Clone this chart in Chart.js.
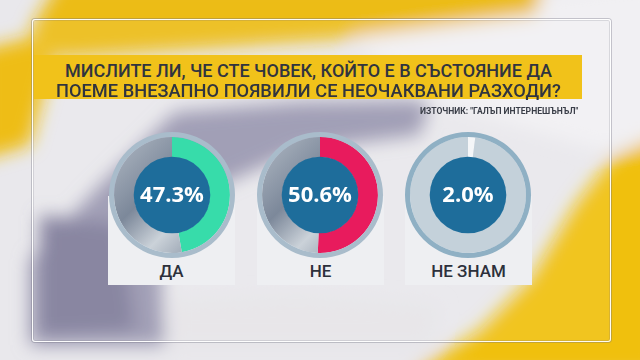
<!DOCTYPE html>
<html>
<head>
<meta charset="utf-8">
<script src="https://cdn.jsdelivr.net/npm/chart.js@4.4.1/dist/chart.umd.min.js"></script>
<style>
body { margin:0; width:640px; height:360px; overflow:hidden; position:relative; background:#e9e8ec; font-family: Roboto, "Noto Sans", sans-serif; }
#bg { position:absolute; left:0; top:0; }
#panel { position:absolute; left:32px; top:19px; width:577px; height:321px; border:1px solid rgba(255,255,255,0.95); box-shadow:0 0 0 1px rgba(110,110,125,0.35), inset 0 0 0 1px rgba(110,110,125,0.2); border-radius:3px; background:rgba(255,255,255,0.08); }
#band { position:absolute; left:34px; top:55px; width:548px; height:44px; background:#f1c21a; }
.title { position:absolute; white-space:nowrap; font-weight:500; font-size:18px; color:#30343f; transform-origin:0 0; line-height:18px; }
#src { position:absolute; white-space:nowrap; font-weight:700; font-size:8.5px; color:#3a3e48; transform-origin:0 0; line-height:9px; }
.card { position:absolute; top:196px; width:127px; height:89px; background:#eeeff2; }
.lbl { position:absolute; top:261px; width:127px; text-align:center; font-weight:500; font-size:17px; color:#2c303b; }
canvas { position:absolute; top:132px; }
</style>
</head>
<body>
<svg id="bg" width="640" height="360">
  <defs><filter id="b" x="-20%" y="-20%" width="140%" height="140%"><feGaussianBlur stdDeviation="9"/></filter></defs>
  <g filter="url(#b)">
    <polygon points="330,20 660,-20 660,140 600,150 430,100" fill="#f1f0f3"/>
    <polygon points="60,-20 545,-20 535,14 330,40 60,58 30,30" fill="#ecbc12"/>
    <polygon points="-20,50 40,35 55,55 30,145 -20,160" fill="#eebd14"/>
    <polygon points="175,112 300,102 430,100 420,135 300,150 210,190 160,260 165,345 30,345 30,260 100,185" fill="#9a97b0"/>
    <polygon points="40,215 120,225 135,330 40,335" fill="#7f7b9a"/>
    <polygon points="660,135 610,160 575,205 530,280 480,330 410,375 660,375" fill="#f0c010"/>
    <polygon points="170,300 300,295 440,305 430,345 170,345" fill="#e6e4e8"/>
  </g>
</svg>
<div id="panel"></div>
<div id="band"></div>
<div class="title" id="t1" data-x="65" data-w="487" style="top:62px">МИСЛИТЕ ЛИ, ЧЕ СТЕ ЧОВЕК, КОЙТО Е В СЪСТОЯНИЕ ДА</div>
<div class="title" id="t2" data-x="56" data-w="505" style="top:82px">ПОЕМЕ ВНЕЗАПНО ПОЯВИЛИ СЕ НЕОЧАКВАНИ РАЗХОДИ?</div>
<div id="src" data-x="420" data-w="158" style="top:107px">ИЗТОЧНИК: "ГАЛЪП ИНТЕРНЕШЪНЪЛ"</div>

<div class="card" style="left:108px"></div>
<div class="card" style="left:257px"></div>
<div class="card" style="left:405px"></div>

<canvas id="c0" width="126" height="126" style="left:109px"></canvas>
<canvas id="c1" width="126" height="126" style="left:257px"></canvas>
<canvas id="c2" width="126" height="126" style="left:405px"></canvas>

<div class="lbl" id="l0" style="left:108px"></div>
<div class="lbl" id="l1" style="left:257px"></div>
<div class="lbl" id="l2" style="left:405px"></div>

<script>
// данни
const categories = ['ДА', 'НЕ', 'НЕ ЗНАМ'];
const values = [47.3, 50.6, 2.0];
const sliceColors = ['#37dcaa', '#e81b5d', '#f4f6f8'];
const restColors = [null, null, '#c4d1da'];   // null = метален сив градиент
const rimColors = ['#a9bccb', '#a9bccb', '#8fb0c4'];

// текстовете да влязат в ширината си
document.querySelectorAll('.title, #src').forEach(el => {
	el.style.left = el.dataset.x + 'px';
	let k = el.dataset.w / el.offsetWidth;
	el.style.transform = 'scaleX(' + k + ')';
});

function metal(c){
	let a = c.chart.chartArea;
	if(!a) return '#9aa4b0';
	let g = c.chart.ctx.createLinearGradient(a.left, a.top, a.right, a.bottom);
	g.addColorStop(0, '#b7bfc9');
	g.addColorStop(0.4, '#7c889a');
	g.addColorStop(0.62, '#cbd2d9');
	g.addColorStop(0.85, '#8b97a7');
	g.addColorStop(1, '#7a8798');
	return g;
}

// синият кръг и процентът в средата
const centerPlugin = {
	id: 'center',
	afterDatasetsDraw(chart, args, opts){
		let arc = chart.getDatasetMeta(1).data[0];
		let p = arc.getProps(['x', 'y', 'innerRadius'], true);
		let ctx = chart.ctx;
		ctx.save();
		ctx.beginPath();
		ctx.arc(p.x, p.y, p.innerRadius + 0.5, 0, Math.PI * 2);
		ctx.fillStyle = '#1e6d9b';
		ctx.fill();
		ctx.fillStyle = '#ffffff';
		ctx.font = 'bold 22px "Open Sans"';
		ctx.textAlign = 'center';
		ctx.textBaseline = 'middle';
		ctx.fillText(opts.text, p.x, p.y + 1);
		ctx.restore();
	}
};

categories.forEach((cat, i) => {
	document.getElementById('l' + i).textContent = cat;
	new Chart(document.getElementById('c' + i), {
		type: 'doughnut',
		data: {
			labels: [cat, ''],
			datasets: [
				{ data: [100], backgroundColor: rimColors[i], borderWidth: 0, weight: 1 },
				{
					data: [values[i], 100 - values[i]],
					backgroundColor: c => c.dataIndex === 0 ? sliceColors[i] : (restColors[i] || metal(c)),
					borderWidth: 0,
					weight: 4
				}
			]
		},
		options: {
			responsive: false,
			animation: false,
			cutout: '60%',
			plugins: {
				legend: { display: false },
				tooltip: { enabled: false },
				center: { text: values[i].toFixed(1) + '%' }
			}
		},
		plugins: [centerPlugin]
	});
});
</script>
</body>
</html>
